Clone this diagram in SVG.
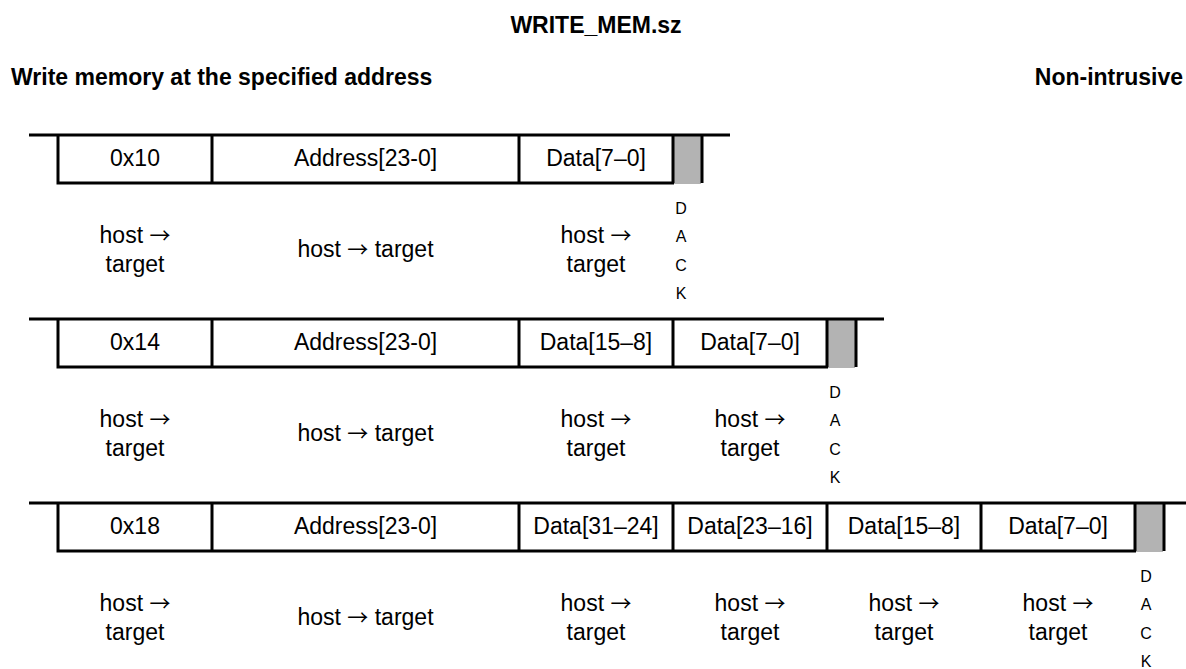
<svg xmlns="http://www.w3.org/2000/svg" width="1186" height="669" viewBox="0 0 1186 669">
<style>
text{font-family:"Liberation Sans",Arial,sans-serif;fill:#000}
.title{font-size:23px;font-weight:bold}
.hdr{font-size:23px;font-weight:bold}
.cell{font-size:23px;text-anchor:middle}
.lbl{font-size:23px;text-anchor:middle}
.ar{font-family:"Noto Sans CJK SC","DejaVu Sans",sans-serif;font-size:21px}
.ack{font-size:16px;text-anchor:middle}
.ln{stroke:#000;stroke-width:3;fill:none}
.gray{fill:#b3b3b3}
</style>
<text class="title" x="596" y="33" text-anchor="middle">WRITE_MEM.sz</text>
<text class="hdr" x="11" y="85">Write memory at the specified address</text>
<text class="hdr" x="1183" y="85" text-anchor="end">Non-intrusive</text>

<g id="row1">
  <rect class="gray" x="674" y="135" width="27" height="49"/>
  <path class="ln" d="M29 135H730M58 135V183H674M212 135V183M519 135V183M673 135V183M702 135V183"/>
  <g id="r1c1"><text class="cell" x="135" y="166">0x10</text><text class="lbl" x="135" y="243">host <tspan class="ar">→</tspan></text><text class="lbl" x="135" y="272">target</text></g>
  <g id="r1c2"><text class="cell" x="365.5" y="166">Address[23-0]</text><text class="lbl" x="365.5" y="257">host <tspan class="ar">→</tspan> target</text></g>
  <g id="r1c3"><text class="cell" x="596" y="166">Data[7–0]</text><text class="lbl" x="596" y="243">host <tspan class="ar">→</tspan></text><text class="lbl" x="596" y="272">target</text></g>
  <g id="r1ack"><text class="ack" x="681" y="214">D</text><text class="ack" x="681" y="242">A</text><text class="ack" x="681" y="271">C</text><text class="ack" x="681" y="299">K</text></g>
</g>

<g id="row2">
  <rect class="gray" x="828" y="319" width="27" height="49"/>
  <path class="ln" d="M29 319H884M58 319V367H828M212 319V367M519 319V367M673 319V367M827 319V367M856 319V367"/>
  <g id="r2c1"><text class="cell" x="135" y="350">0x14</text><text class="lbl" x="135" y="427">host <tspan class="ar">→</tspan></text><text class="lbl" x="135" y="456">target</text></g>
  <g id="r2c2"><text class="cell" x="365.5" y="350">Address[23-0]</text><text class="lbl" x="365.5" y="441">host <tspan class="ar">→</tspan> target</text></g>
  <g id="r2c3"><text class="cell" x="596" y="350">Data[15–8]</text><text class="lbl" x="596" y="427">host <tspan class="ar">→</tspan></text><text class="lbl" x="596" y="456">target</text></g>
  <g id="r2c4"><text class="cell" x="750" y="350">Data[7–0]</text><text class="lbl" x="750" y="427">host <tspan class="ar">→</tspan></text><text class="lbl" x="750" y="456">target</text></g>
  <g id="r2ack"><text class="ack" x="835" y="398">D</text><text class="ack" x="835" y="426">A</text><text class="ack" x="835" y="455">C</text><text class="ack" x="835" y="483">K</text></g>
</g>

<g id="row3">
  <rect class="gray" x="1136" y="503" width="27" height="49"/>
  <path class="ln" d="M29 503H1186M58 503V551H1136M212 503V551M519 503V551M673 503V551M827 503V551M981 503V551M1135 503V551M1164 503V551"/>
  <g id="r3c1"><text class="cell" x="135" y="534">0x18</text><text class="lbl" x="135" y="611">host <tspan class="ar">→</tspan></text><text class="lbl" x="135" y="640">target</text></g>
  <g id="r3c2"><text class="cell" x="365.5" y="534">Address[23-0]</text><text class="lbl" x="365.5" y="625">host <tspan class="ar">→</tspan> target</text></g>
  <g id="r3c3"><text class="cell" x="596" y="534">Data[31–24]</text><text class="lbl" x="596" y="611">host <tspan class="ar">→</tspan></text><text class="lbl" x="596" y="640">target</text></g>
  <g id="r3c4"><text class="cell" x="750" y="534">Data[23–16]</text><text class="lbl" x="750" y="611">host <tspan class="ar">→</tspan></text><text class="lbl" x="750" y="640">target</text></g>
  <g id="r3c5"><text class="cell" x="904" y="534">Data[15–8]</text><text class="lbl" x="904" y="611">host <tspan class="ar">→</tspan></text><text class="lbl" x="904" y="640">target</text></g>
  <g id="r3c6"><text class="cell" x="1058" y="534">Data[7–0]</text><text class="lbl" x="1058" y="611">host <tspan class="ar">→</tspan></text><text class="lbl" x="1058" y="640">target</text></g>
  <g id="r3ack"><text class="ack" x="1146" y="582">D</text><text class="ack" x="1146" y="610">A</text><text class="ack" x="1146" y="639">C</text><text class="ack" x="1146" y="667">K</text></g>
</g>
<g id="connectors"/>
</svg>
